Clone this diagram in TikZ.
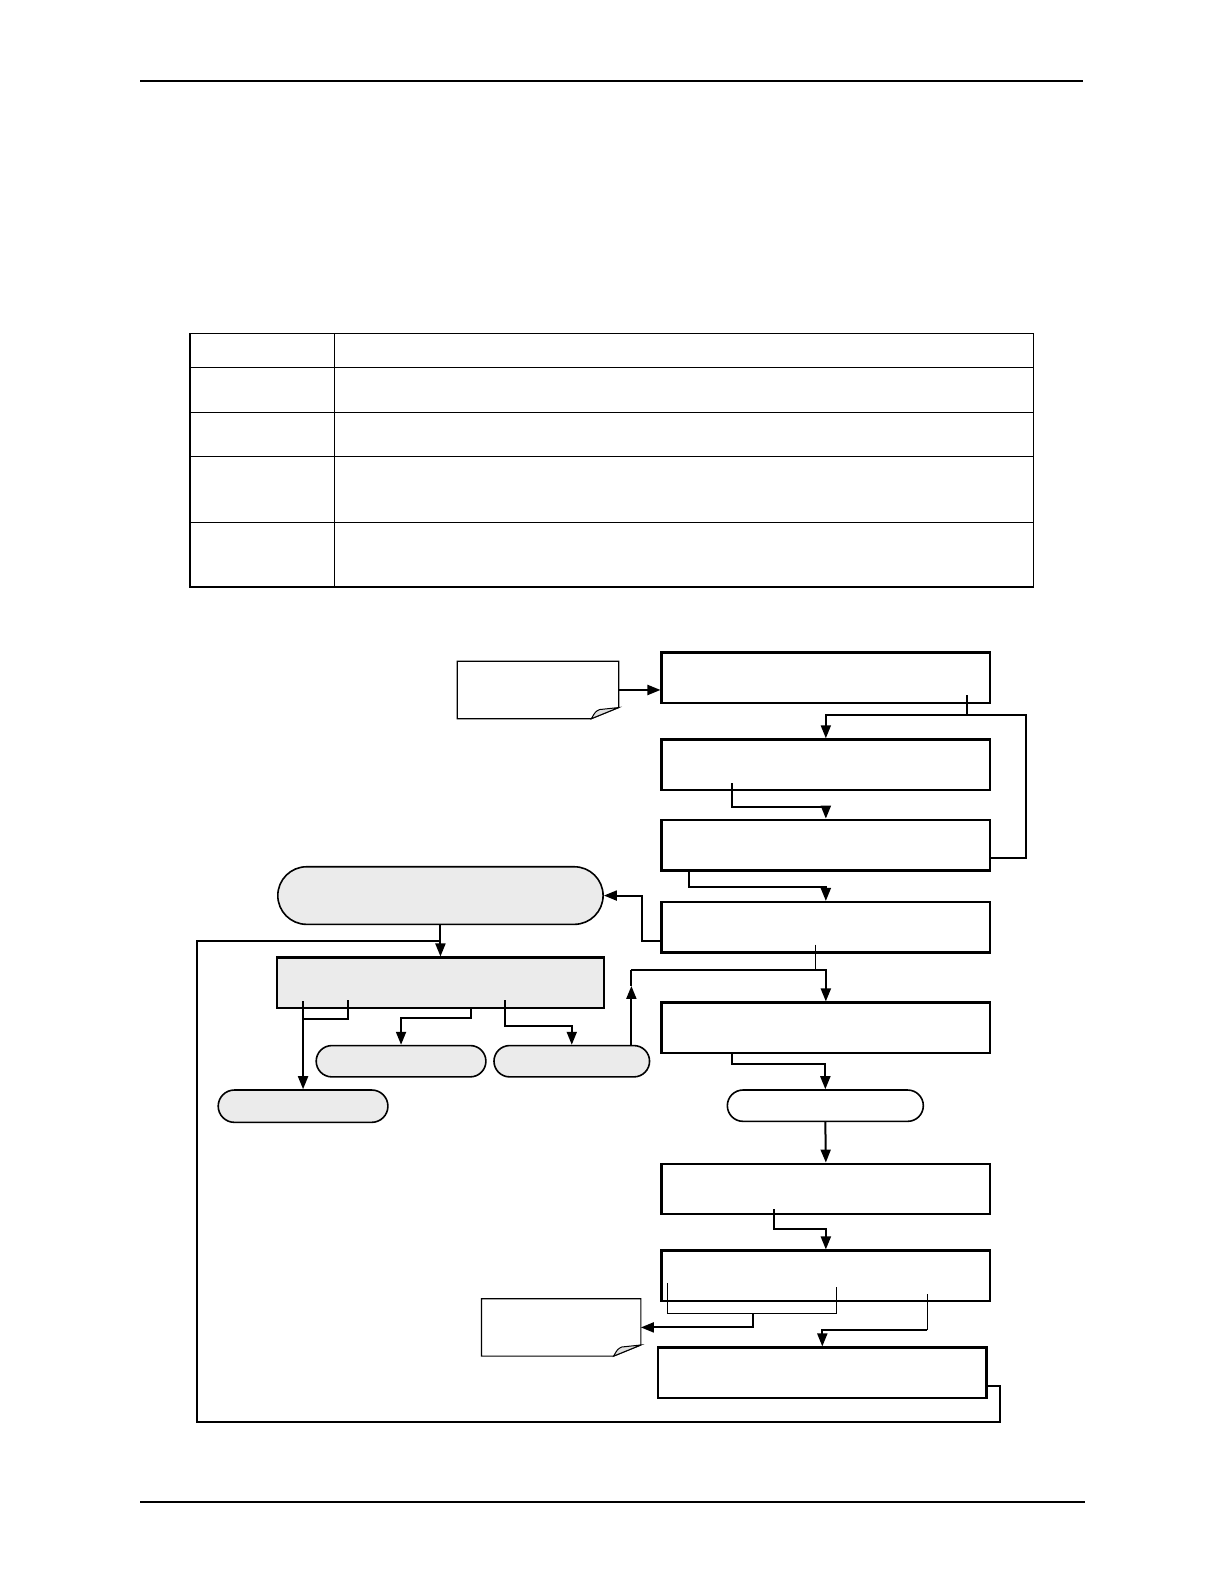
\documentclass[tikz,border=0pt]{standalone}
\usetikzlibrary{arrows.meta,shapes.misc,calc}
\newcommand{\unitpx}{0.505pt}
\tikzset{
    stepbox/.style={draw, line width=1.2pt, inner sep=0pt,
        minimum width=325*\unitpx, minimum height=50*\unitpx},
    shadebox/.style={stepbox, fill=black!8},
    pill/.style={rounded rectangle, draw, line width=0.8pt, inner sep=0pt, fill=black!8},
    memo/.style={inner sep=0pt, minimum width=158*\unitpx, minimum height=56*\unitpx},
    link/.style={line width=1pt},
    thinlink/.style={line width=0.6pt},
    flow/.style={link, -{Triangle[length=6.5pt,width=5pt]}},
    rule/.style={line width=0.7pt}
}
% note with a curled corner, drawn round a named node
\newcommand{\drawmemo}[1]{%
    \draw[line width=0.6pt] (#1.north west) -- (#1.north east)
        -- ($(#1.south east)+(0,-11)$) -- ($(#1.south east)+(-27,0)$)
        -- (#1.south west) -- cycle;
    \filldraw[line width=0.5pt, fill=black!12] ($(#1.south east)+(-27,0)$)
        .. controls ($(#1.south east)+(-23,-7)$) .. ($(#1.south east)+(-19,-9)$)
        -- ($(#1.south east)+(0,-11)$) -- cycle;
}

\begin{document}
\begin{tikzpicture}[x=\unitpx, y=-\unitpx]
    \useasboundingbox (0,0) rectangle (1212,1568);

    % page rules
    \draw[rule] (139,80) -- (1072,80);
    \draw[rule] (139,1487) -- (1074,1487);

    % table
    \draw[line width=0.6pt] (188,330) rectangle (1023,581);
    \draw[line width=0.6pt] (331,330) -- (331,581);
    \foreach \yrow in {364,408,452,517}
        \draw[line width=0.6pt] (188,\yrow) -- (1023,\yrow);

    % right column
    \node[stepbox] (A) at (817.5,671) {};
    \node[stepbox] (B) at (817.5,757) {};
    \node[stepbox] (C) at (817.5,836.5) {};
    \node[stepbox] (D) at (817.5,918) {};
    \node[stepbox] (F) at (817.5,1017.5) {};
    \node[pill, fill=white, minimum width=194*\unitpx, minimum height=31*\unitpx] (J) at (817,1094.5) {};
    \node[stepbox] (L) at (817.5,1177) {};
    \node[stepbox] (M) at (817.5,1263) {};
    \node[stepbox] (K) at (814,1359) {};

    % left group
    \node[pill, minimum width=322*\unitpx, minimum height=57*\unitpx] (E) at (436,886.5) {};
    \node[shadebox, minimum width=324*\unitpx] (G) at (436,973) {};
    \node[pill, minimum width=168*\unitpx, minimum height=31*\unitpx] (H1) at (397,1050.5) {};
    \node[pill, minimum width=154*\unitpx, minimum height=31*\unitpx] (H2) at (566,1050.5) {};
    \node[pill, minimum width=168*\unitpx, minimum height=32*\unitpx] (I) at (300,1095) {};

    % notes
    \node[memo, minimum width=159*\unitpx] (N1) at (532.5,683) {};
    \node[memo, minimum width=157*\unitpx] (N2) at (555.5,1314) {};
    \drawmemo{N1}
    \drawmemo{N2}

    % bend points
    \coordinate (aTap) at (957,708);
    \coordinate (cLoop) at (1016,849);
    \coordinate (bTap) at (725,799);
    \coordinate (cTap) at (682,878);
    \coordinate (dLeft) at (636,931);
    \coordinate (hUp) at (625,960);
    \coordinate (kLoop) at (990,1372);
    \coordinate (kBase) at (195,1408);
    \coordinate (gLoop) at (195,931);
    \coordinate (fTap) at (725,1053);
    \coordinate (lTap) at (766,1217);
    \coordinate (mNote) at (745,1300);
    \coordinate (mTap) at (918,1317);

    % connectors
    \draw[flow] (N1.east) -- (A.west |- N1.east);
    \draw[link] ($(aTap)+(0,-20)$) -- (aTap);
    \draw[flow] (C.east |- cLoop) -- (cLoop) |- (aTap) -| (B.north);
    \draw[flow] ($(bTap |- B.south)+(0,-8)$) -- (bTap) -| (C.north);
    \draw[flow] (cTap |- C.south) -- (cTap) -| (D.north);
    \draw[flow] (D.west |- dLeft) -- (dLeft) |- (E.east);
    \draw[thinlink] (807,935) -- (807,960);
    \draw[flow] (hUp |- H2.north) -- (625,976);
    \draw[link] (625,976) -- (hUp);
    \draw[flow] (hUp) -| (F.north);
    \draw[flow] (E.south) -- (G.north);
    \draw[link] (K.east |- kLoop) -- (kLoop) |- (kBase) -- (gLoop) -- (gLoop -| E.south);
    \draw[flow] ($(I.north |- G.south)+(0,-8)$) -- (I.north);
    \draw[link] (344,990) -- (344,1009) -- (300,1009);
    \draw[flow] (466,998) -- (466,1008) -| (H1.north);
    \draw[flow] (500,990) -- (500,1016) -| (H2.north);
    \draw[flow] (fTap |- F.south) -- (fTap) -| (J.north);
    \draw[flow] (J.south) -- (L.north);
    \draw[flow] ($(lTap |- L.south)+(0,-6)$) -- (lTap) -| (M.north);
    \draw[thinlink] (661,1270) -- (661,1300) -- (828,1300) -- (828,1274);
    \draw[flow] (mNote) |- (N2.east);
    \draw[thinlink] (918,1281) -- (mTap);
    \draw[flow] (mTap) -| (K.north);
\end{tikzpicture}
\end{document}
